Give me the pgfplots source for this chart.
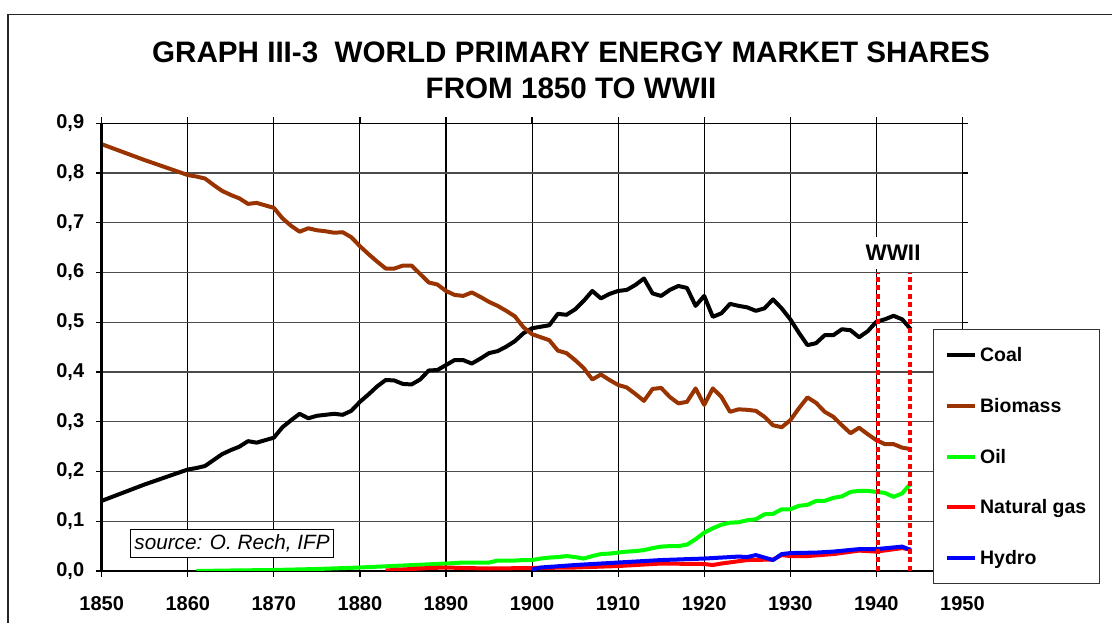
\documentclass[border=0pt]{standalone}
\usepackage{fontspec}
\setmainfont{Liberation Sans}
\usepackage{pgfplots}
\usepackage{pgfplotstable}
\pgfplotsset{compat=1.18}
\definecolor{biomass}{HTML}{993300}
\definecolor{oil}{HTML}{00FF00}
\definecolor{gas}{HTML}{FF0000}
\definecolor{hydro}{HTML}{0000FF}
\newcommand{\lblfont}{\fontsize{20}{23}\selectfont\bfseries}

% shares of world primary energy, coal and biomass
\pgfplotstableread{
year coal biomass
1850 0.141 0.858
1855 0.174 0.826
1860 0.204 0.796
1861 0.207 0.793
1862 0.211 0.789
1863 0.223 0.776
1864 0.235 0.764
1865 0.243 0.756
1866 0.250 0.749
1867 0.261 0.738
1868 0.258 0.740
1869 0.263 0.735
1870 0.268 0.730
1871 0.289 0.709
1872 0.303 0.694
1873 0.316 0.682
1874 0.307 0.689
1875 0.312 0.685
1876 0.314 0.683
1877 0.316 0.680
1878 0.314 0.681
1879 0.322 0.671
1880 0.340 0.653
1881 0.355 0.637
1882 0.371 0.622
1883 0.384 0.608
1884 0.383 0.608
1885 0.376 0.614
1886 0.375 0.614
1887 0.385 0.597
1888 0.403 0.580
1889 0.404 0.576
1890 0.414 0.563
1891 0.424 0.555
1892 0.424 0.553
1893 0.417 0.560
1894 0.427 0.551
1895 0.438 0.541
1896 0.442 0.533
1897 0.451 0.523
1898 0.462 0.512
1899 0.478 0.490
1900 0.488 0.476
1901 0.491 0.470
1902 0.494 0.464
1903 0.517 0.443
1904 0.515 0.438
1905 0.526 0.424
1906 0.543 0.408
1907 0.563 0.385
1908 0.548 0.395
1909 0.557 0.384
1910 0.563 0.374
1911 0.565 0.369
1912 0.575 0.356
1913 0.588 0.342
1914 0.558 0.366
1915 0.553 0.368
1916 0.565 0.350
1917 0.573 0.337
1918 0.569 0.340
1919 0.533 0.367
1920 0.553 0.334
1921 0.511 0.367
1922 0.518 0.350
1923 0.537 0.320
1924 0.533 0.325
1925 0.530 0.324
1926 0.523 0.322
1927 0.528 0.310
1928 0.546 0.293
1929 0.528 0.289
1930 0.506 0.303
1931 0.479 0.327
1932 0.454 0.349
1933 0.458 0.338
1934 0.474 0.320
1935 0.474 0.310
1936 0.486 0.293
1937 0.484 0.277
1938 0.470 0.288
1939 0.482 0.275
1940 0.501 0.263
1941 0.506 0.255
1942 0.513 0.255
1943 0.506 0.248
1944 0.486 0.245
}\bigtwo

\begin{document}
\begin{tikzpicture}
\useasboundingbox (0pt,0pt) rectangle (1112pt,623pt);
% chart frame (cut off at right and bottom)
\draw[line width=1.2pt, black!85] (8pt,-5pt) -- (8pt,608.3pt) -- (1120pt,608.3pt);
\node[anchor=base, font=\fontsize{29.6}{34}\selectfont\bfseries] at (571pt,560.3pt) {GRAPH III-3\ \ WORLD PRIMARY ENERGY MARKET SHARES};
\node[anchor=base, font=\fontsize{29.6}{34}\selectfont\bfseries] at (571pt,524pt) {FROM 1850 TO WWII};

\begin{axis}[
  at={(101.7pt,52pt)}, anchor=south west,
  scale only axis, width=860.7pt, height=447.7pt,
  xmin=1850, xmax=1950, ymin=0, ymax=0.9,
  xtick={1850,1860,1870,1880,1890,1900,1910,1920,1930,1940,1950},
  ytick={0,0.1,0.2,0.3,0.4,0.5,0.6,0.7,0.8,0.9},
  /pgf/number format/assume math mode=true,
  x tick label style={/pgf/number format/1000 sep={}, yshift=-16pt},
  y tick label style={/pgf/number format/.cd, fixed, fixed zerofill, precision=1, use comma,
    /tikz/.cd, xshift=-8pt},
  tick label style={font=\lblfont},
  tick align=outside, major tick length=6pt,
  tick style={black, line width=1.2pt},
  axis line style={black, line width=1.3pt},
  xmajorgrids, ymajorgrids,
  x grid style={black, line width=1.1pt},
  y grid style={black!70, line width=1.2pt},
  legend style={at={(0.9659,0.5405)}, anchor=north west,
    draw=black!80, line width=1.2pt, fill=white,
    font=\fontsize{19.5}{23}\selectfont\bfseries,
    inner xsep=11pt, inner ysep=16pt, row sep=31pt, column sep=1.5pt},
  legend cell align=left,
  legend image code/.code={\draw[#1, line width=4pt] (0pt,0pt) -- (28pt,0pt);},
  every axis plot/.append style={line width=4pt, line join=round},
]
\addplot[black] table[x=year, y=coal] {\bigtwo};
\addlegendentry{Coal}
\addplot[biomass] table[x=year, y=biomass] {\bigtwo};
\addlegendentry{Biomass}
\addplot[oil] coordinates {
  (1861,0.000) (1865,0.001) (1870,0.002) (1875,0.004) (1880,0.007) (1885,0.011)
  (1890,0.015) (1891,0.016) (1892,0.017) (1893,0.017) (1894,0.017) (1895,0.017)
  (1896,0.021) (1897,0.021) (1898,0.021) (1899,0.022) (1900,0.022) (1901,0.025)
  (1902,0.027) (1903,0.028) (1904,0.030) (1905,0.028) (1906,0.025) (1907,0.030)
  (1908,0.034) (1909,0.035) (1910,0.037) (1911,0.039) (1912,0.040) (1913,0.042)
  (1914,0.046) (1915,0.049) (1916,0.050) (1917,0.050) (1918,0.053) (1919,0.064)
  (1920,0.077) (1921,0.086) (1922,0.093) (1923,0.097) (1924,0.098) (1925,0.102)
  (1926,0.104) (1927,0.114) (1928,0.115) (1929,0.124) (1930,0.124) (1931,0.131)
  (1932,0.133) (1933,0.141) (1934,0.141) (1935,0.147) (1936,0.150) (1937,0.159)
  (1938,0.161) (1939,0.161) (1940,0.159) (1941,0.157) (1942,0.149) (1943,0.156)
  (1944,0.176)
};
\addlegendentry{Oil}
\addplot[gas] coordinates {
  (1883,0.001) (1885,0.003) (1888,0.006) (1890,0.007) (1892,0.006) (1895,0.005)
  (1900,0.006) (1905,0.007) (1910,0.010) (1915,0.015) (1920,0.014) (1921,0.012)
  (1922,0.015) (1925,0.022) (1928,0.023) (1929,0.032) (1930,0.030) (1932,0.030)
  (1935,0.034) (1938,0.041) (1940,0.039) (1943,0.046) (1944,0.043)
};
\addlegendentry{Natural gas}
\addplot[hydro] coordinates {
  (1900,0.003) (1901,0.007) (1905,0.012) (1910,0.017) (1915,0.022) (1920,0.025)
  (1924,0.029) (1925,0.028) (1926,0.032) (1927,0.027) (1928,0.022) (1929,0.034)
  (1930,0.036) (1933,0.037) (1935,0.039) (1938,0.044) (1940,0.044) (1943,0.049)
  (1944,0.042)
};
\addlegendentry{Hydro}
% WWII markers
\addplot[gas, line width=4pt, dash pattern=on 5pt off 3.5pt, forget plot] coordinates {(1940.15,0) (1940.15,0.6)};
\addplot[gas, line width=4pt, dash pattern=on 5pt off 3.5pt, forget plot] coordinates {(1943.9,0) (1943.9,0.6)};
\end{axis}

\draw[black, line width=2.6pt] (101.7pt,52pt) -- (101.7pt,499.7pt);
\node[fill=white, inner xsep=3pt, inner ysep=8pt, font=\fontsize{22.5}{26}\selectfont\bfseries] at (893pt,370pt) {WWII};
\node[draw=black, line width=1.2pt, fill=white, inner xsep=4pt, inner ysep=5pt,
  font=\fontsize{20.7}{24}\selectfont\itshape] at (232pt,79.5pt) {source: O. Rech, IFP};
\end{tikzpicture}
\end{document}
